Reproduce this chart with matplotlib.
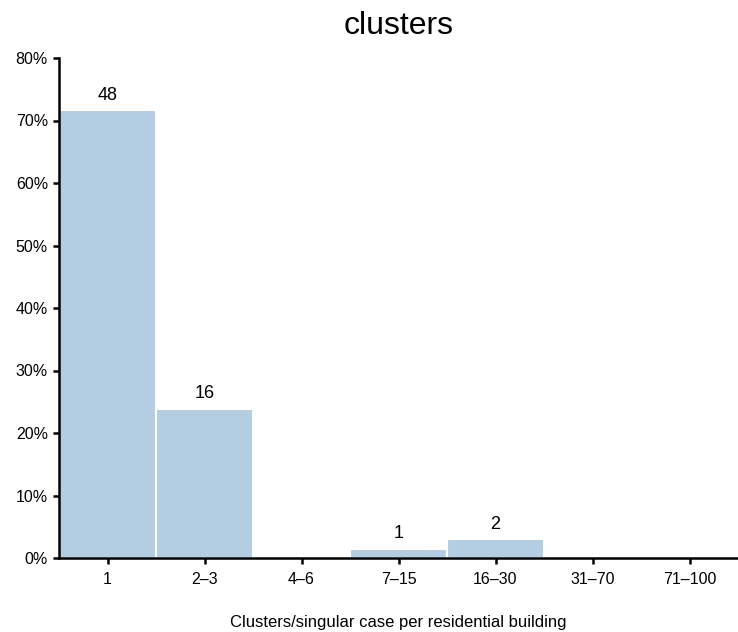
import matplotlib
matplotlib.use("Agg")
import matplotlib.pyplot as plt
import numpy as np

plt.rcParams['font.family'] = ['Liberation Sans', 'DejaVu Sans']

categories = ["1", "2\u20133", "4\u20136", "7\u201315", "16\u201330", "31\u201370", "71\u2013100"]
counts = [48, 16, 0, 1, 2, 0, 0]
yticks = [0, 10, 20, 30, 40, 50, 60, 70, 80]

total = sum(counts)
pct = [c / total * 100 for c in counts]

fig = plt.figure(figsize=(7.38, 6.32), dpi=100)
ax = fig.add_axes([59/738, 1 - 558/632, (738-59)/738, (558-58)/632])

x = np.arange(len(categories))
ax.bar(x, pct, width=1.0, color="#b3cde3", edgecolor="white", linewidth=1.5, zorder=2)
for xi, c, p in zip(x, counts, pct):
    if c > 0:
        ax.text(xi, p + 1.0, str(c), ha="center", va="bottom", fontsize=13, color="black")

ax.set_xlim(-0.5, 6.5)
ax.set_ylim(0, 80)
ax.set_xticks(x)
ax.set_xticklabels(categories, fontsize=11.5)
ax.set_yticks(yticks)
ax.set_yticklabels([f"{v}%" for v in yticks], fontsize=11.5)
for s in ["top", "right"]:
    ax.spines[s].set_visible(False)
for s in ["left", "bottom"]:
    ax.spines[s].set_linewidth(1.8)
    ax.spines[s].set_zorder(3)
ax.tick_params(axis="both", direction="out", length=4, width=1.8, pad=4, colors="black")
ax.tick_params(axis="x", pad=6)
ax.set_xlabel("Clusters/singular case per residential building", fontsize=12, labelpad=20)
ax.set_title("clusters", fontsize=23, pad=17)

fig.savefig("out.png", dpi=100)
